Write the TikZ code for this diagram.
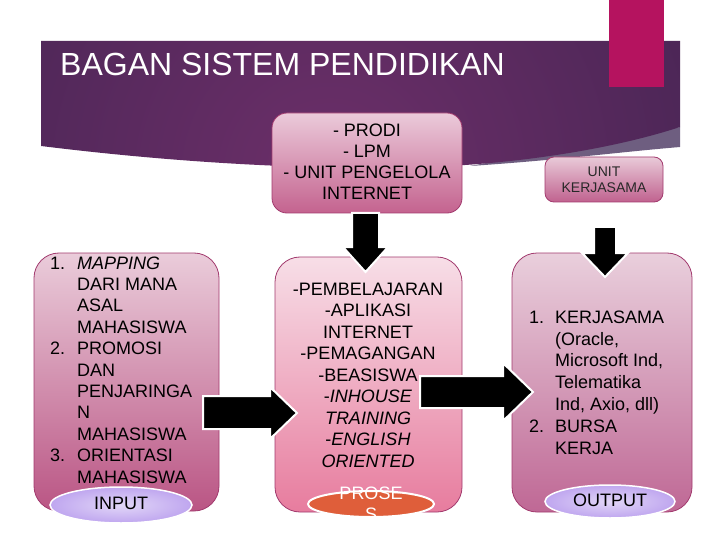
\documentclass[tikz,border=0pt]{standalone}
\usepackage{fontspec}
\setmainfont{Liberation Sans}
\usetikzlibrary{shapes.geometric}
\definecolor{banddark}{HTML}{36204A}
\definecolor{bandlight}{HTML}{6C2F69}
\definecolor{bandgray}{HTML}{6E5E80}
\definecolor{barpink}{HTML}{B5135F}
\definecolor{boxedge}{HTML}{A23A6E}
\definecolor{lav}{HTML}{BFA6EF}
\definecolor{prosred}{HTML}{DF5E3A}
\begin{document}
\begin{tikzpicture}[x=1pt,y=-1pt,
  box/.style={draw=boxedge, line width=0.8pt, inner sep=0pt},
  txt/.style={inner sep=0pt, font=\fontsize{18}{21.5}\selectfont, text=black},
  ovalbox/.style={ellipse, draw=white, line width=1.5pt, inner sep=0pt},
  arrowblk/.style={fill=black, draw=white, line width=2pt, line join=miter}]
\useasboundingbox (0,0) rectangle (720,540);
\fill[white] (0,0) rectangle (720,540);
% banner
\fill[bandgray] (470,166) .. controls (560,160) and (620,152) .. (680,147) -- (680,127) -- cycle;
\path[path picture={\shade[inner color=bandlight, outer color=banddark] (330,175) circle[radius=640];}]
  (41,41) -- (680,41) -- (680,127) .. controls (610,150) and (500,168) .. (380,168)
  .. controls (250,168) and (130,157) .. (41,146) -- cycle;
\fill[barpink] (609,0) rectangle (664,87);
\node[inner sep=0pt, anchor=west, text=white, font=\fontsize{32}{38}\selectfont] (title) at (60,64.5) {BAGAN SISTEM PENDIDIKAN};
% boxes
\node[box, rounded corners=15pt, minimum width=190pt, minimum height=100pt, top color={rgb,255:red,235;green,202;blue,218}, bottom color={rgb,255:red,196;green,99;blue,143}] (prodi) at (367,163) {};
\node[box, rounded corners=9pt, minimum width=118pt, minimum height=45pt, top color={rgb,255:red,233;green,202;blue,216}, bottom color={rgb,255:red,192;green,98;blue,143}] (unit) at (604,179.5) {};
\node[box, rounded corners=25pt, minimum width=185pt, minimum height=258pt, top color={rgb,255:red,234;green,204;blue,218}, bottom color={rgb,255:red,186;green,85;blue,132}] (inbox) at (126.5,382) {};
\node[box, rounded corners=25pt, minimum width=187pt, minimum height=255pt, top color={rgb,255:red,247;green,222;blue,231}, bottom color={rgb,255:red,231;green,124;blue,158}] (prbox) at (368.5,384.5) {};
\node[box, rounded corners=25pt, minimum width=180pt, minimum height=259pt, top color={rgb,255:red,233;green,207;blue,220}, bottom color={rgb,255:red,191;green,104;blue,149}] (outbox) at (602,382.5) {};
% texts
\node[txt, align=center, font=\fontsize{18}{21}\selectfont] (prodit) at (367,161.5) {- PRODI\\- LPM\\- UNIT PENGELOLA\\INTERNET};
\node[txt, align=center, font=\fontsize{14}{16}\selectfont, text={rgb,255:red,40;green,40;blue,40}] (unitt) at (604,180) {UNIT\\KERJASAMA};
\node[txt, align=left, anchor=west, font=\fontsize{18}{21.4}\selectfont] (intext) at (50,370)
 {\makebox[27pt][l]{1.}\textit{MAPPING}\\
  \hspace*{27pt}DARI MANA\\
  \hspace*{27pt}ASAL\\
  \hspace*{27pt}MAHASISWA\\
  \makebox[27pt][l]{2.}PROMOSI\\
  \hspace*{27pt}DAN\\
  \hspace*{27pt}PENJARINGA\\
  \hspace*{27pt}N\\
  \hspace*{27pt}MAHASISWA\\
  \makebox[27pt][l]{3.}ORIENTASI\\
  \hspace*{27pt}MAHASISWA};
\node[txt, align=center] (prtext) at (368,375)
 {-PEMBELAJARAN\\-APLIKASI\\INTERNET\\-PEMAGANGAN\\-BEASISWA\\-\textit{INHOUSE}\\\textit{TRAINING}\\-\textit{ENGLISH}\\\textit{ORIENTED}};
\node[txt, align=left, anchor=west, font=\fontsize{18}{21.8}\selectfont] (outtext) at (529,382.5)
 {\makebox[26pt][l]{1.}KERJASAMA\\
  \hspace*{26pt}(Oracle,\\
  \hspace*{26pt}Microsoft Ind,\\
  \hspace*{26pt}Telematika\\
  \hspace*{26pt}Ind, Axio, dll)\\
  \makebox[26pt][l]{2.}BURSA\\
  \hspace*{26pt}KERJA};
% ovals
\node[ovalbox, inner color=white!55!lav, outer color=lav, minimum width=142pt, minimum height=36pt] (inel) at (121,505) {};
\node[txt] (inlab) at (121,503) {INPUT};
\node[ovalbox, inner color=white!55!lav, outer color=lav, minimum width=130pt, minimum height=33pt] (outel) at (610,501.5) {};
\node[txt] (outlab) at (610,500) {OUTPUT};
\node[ovalbox, line width=2pt, fill=prosred, minimum width=126pt, minimum height=26pt] (prel) at (371,504) {};
\node[txt, align=center, text=white, font=\fontsize{18}{21}\selectfont] (prlab) at (371,503.5) {PROSE\\S};
% block arrows
\draw[arrowblk] (352,213) -- (379,213) -- (379,247) -- (388,247) -- (365.5,272) -- (343,247) -- (352,247) -- cycle;
\draw[arrowblk] (594,227) -- (616,227) -- (616,253) -- (628,253) -- (605,277) -- (582,253) -- (594,253) -- cycle;
\draw[arrowblk] (203,396) -- (270,396) -- (270,387) -- (297,413) -- (270,439) -- (270,429) -- (203,429) -- cycle;
\draw[arrowblk] (420,376) -- (503,376) -- (503,363) -- (533,392) -- (503,421) -- (503,408) -- (420,408) -- cycle;
\end{tikzpicture}
\end{document}
